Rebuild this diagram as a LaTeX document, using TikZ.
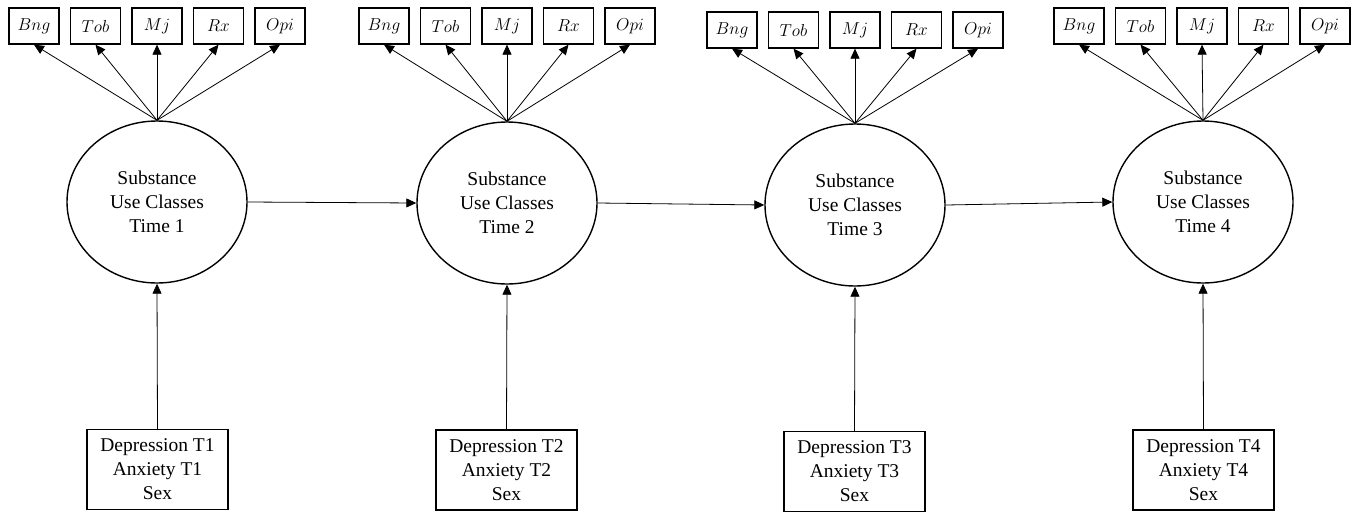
\documentclass[tikz,border=0pt]{standalone}
\usepackage{fontspec}
\setmainfont{Liberation Serif}
\usetikzlibrary{shapes.geometric,arrows.meta}
\tikzset{
  latent/.style={draw, ellipse, line width=1.4pt, minimum width=180pt, minimum height=162pt, inner sep=0pt, align=center, font=\fontsize{19.5}{24}\selectfont},
  indic/.style={draw, rectangle, line width=1.3pt, minimum width=50pt, minimum height=36pt, inner sep=0pt, font=\fontsize{16}{18}\selectfont},
  covbox/.style={draw, rectangle, line width=1.3pt, minimum width=141pt, minimum height=80pt, inner sep=0pt, align=center, font=\fontsize{19.5}{24}\selectfont},
  arr/.style={-{Triangle[length=10pt,width=9pt]}, line width=0.8pt},
}
\begin{document}
\begin{tikzpicture}[x=1pt,y=-1pt]
\useasboundingbox (0,0) rectangle (1360,512);
% latent ellipses
\node[latent] (e1) at (157,202) {Substance\\Use Classes\\Time 1};
\node[latent] (e2) at (507,203) {Substance\\Use Classes\\Time 2};
\node[latent] (e3) at (855,205) {Substance\\Use Classes\\Time 3};
\node[latent] (e4) at (1203,202) {Substance\\Use Classes\\Time 4};
% covariate boxes
\node[covbox] (d1) at (157.5,469.5) {Depression T1\\Anxiety T1\\Sex};
\node[covbox] (d2) at (506.5,470) {Depression T2\\Anxiety T2\\Sex};
\node[covbox] (d3) at (854.5,471.5) {Depression T3\\Anxiety T3\\Sex};
\node[covbox] (d4) at (1203.5,470) {Depression T4\\Anxiety T4\\Sex};
% indicators
\foreach \g/\cx/\cy in {1/157/26, 2/507/26, 3/855/30, 4/1202/26} {
  \node[indic] (bng\g) at (\cx-123,\cy) {$Bng$};
  \node[indic] (tob\g) at (\cx-61.5,\cy) {$Tob$};
  \node[indic] (mj\g)  at (\cx,\cy) {$Mj$};
  \node[indic] (rx\g)  at (\cx+61.5,\cy) {$Rx$};
  \node[indic] (opi\g) at (\cx+123,\cy) {$Opi$};
  \foreach \n in {bng,tob,mj,rx,opi} {
    \draw[arr] (e\g.north) -- (\n\g.south);
  }
  \draw[arr] (d\g.north) -- (e\g.south);
}
% structural paths
\draw[arr] (e1.east) -- (e2.west);
\draw[arr] (e2.east) -- (e3.west);
\draw[arr] (e3.east) -- (e4.west);
\end{tikzpicture}
\end{document}
